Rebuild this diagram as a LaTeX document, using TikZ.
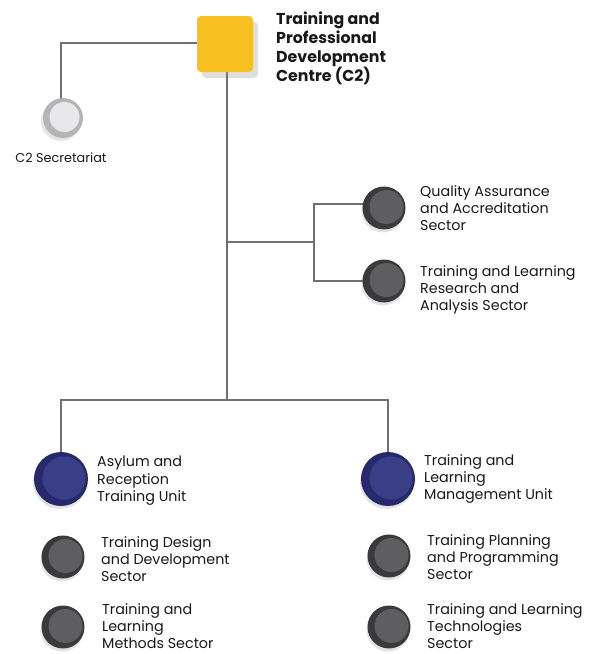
\documentclass[tikz,border=0pt]{standalone}
\usepackage{fontspec}
\setmainfont{Poppins}
\usetikzlibrary{shadows,calc}
\definecolor{ylw}{HTML}{F9C022}
\definecolor{ringdk}{HTML}{3A3A3C}
\definecolor{filldk}{HTML}{5E5E60}
\definecolor{ringbl}{HTML}{262A6C}
\definecolor{fillbl}{HTML}{3A3E86}
\definecolor{ringlt}{HTML}{B5B5B7}
\definecolor{filllt}{HTML}{E8E8EA}
\definecolor{linec}{HTML}{707070}
\tikzset{
  x=1pt,y=-1pt,
  conn/.style={draw=linec,line width=1.4pt},
  lbl/.style={anchor=north west,align=left,inner sep=0pt,font=\fontsize{14.3}{17.4}\selectfont,text=black!90},
  dkcirc/.style={circle,minimum size=43pt,inner sep=0pt,fill=ringdk,drop shadow={shadow xshift=-1pt,shadow yshift=-3pt,opacity=0.22}},
  blcirc/.style={circle,minimum size=54pt,inner sep=0pt,fill=ringbl,drop shadow={shadow xshift=-1pt,shadow yshift=-3pt,opacity=0.22}},
  ltcirc/.style={circle,minimum size=40pt,inner sep=0pt,fill=ringlt,drop shadow={shadow xshift=-2pt,shadow yshift=-3pt,opacity=0.2}},
}
\begin{document}
\begin{tikzpicture}
\useasboundingbox (0,0) rectangle (590,654);
% connectors first (behind)
\coordinate (j1) at (227,242);
\coordinate (j2) at (314,242);
\coordinate (j3) at (227,400);
\coordinate (topl) at (200,43);
\coordinate (topb) at (227,70);
\coordinate (secn) at (61,100);
\coordinate (aruN) at (61,452);
\coordinate (tlmuN) at (388,452);
\coordinate (qaW) at (365,204);
\coordinate (tlraW) at (365,281);
\draw[conn] (topl) -- (secn |- topl) -- (secn);
\draw[conn] (topb) -- (j3);
\draw[conn] (j1) -- (j2);
\draw[conn] (qaW) -- (qaW -| j2) -- (tlraW -| j2) -- (tlraW);
\draw[conn] (aruN) -- (aruN |- j3) -- (tlmuN |- j3) -- (tlmuN);

% nodes
\node[rounded corners=4pt,fill=ylw,minimum size=56pt,inner sep=0pt,drop shadow={shadow xshift=5pt,shadow yshift=-6pt,opacity=0.25}] (top) at (225,44) {};
\node[lbl,font=\fontsize{15.8}{18.8}\selectfont\bfseries] (toplbl) at (276,12) {Training and\\Professional\\Development\\Centre (C2)};

\node[ltcirc] (sec) at (63,118) {};
\fill[filllt] ($(sec)+(1.5,-1)$) circle (15pt);
\node[lbl,font=\fontsize{12.8}{14}\selectfont,anchor=north] (seclbl) at (61,153) {C2 Secretariat};

\node[dkcirc] (qa) at (384,208) {};
\node[dkcirc] (tlra) at (384,281) {};
\node[blcirc] (aru) at (61,479) {};
\node[blcirc] (tlmu) at (388,479) {};
\node[dkcirc] (tdd) at (63,557) {};
\node[dkcirc] (tlm) at (63,627) {};
\node[dkcirc] (tpp) at (389,556) {};
\node[dkcirc] (tlt) at (389,627) {};

\foreach \n in {qa,tlra,tdd,tlm,tpp,tlt}{
  \fill[filldk] ($(\n)+(2.5,-1)$) circle (17pt);
}
\foreach \n in {aru,tlmu}{
  \fill[fillbl] ($(\n)+(3,-1)$) circle (21.5pt);
}

\node[lbl] (qalbl) at (420,185) {Quality Assurance\\and Accreditation\\Sector};
\node[lbl] (tlralbl) at (420,265) {Training and Learning\\Research and\\Analysis Sector};
\node[lbl] (arulbl) at (97,456) {Asylum and\\Reception\\Training Unit};
\node[lbl] (tlmulbl) at (424,454) {Training and\\Learning\\Management Unit};
\node[lbl] (tddlbl) at (101,536) {Training Design\\and Development\\Sector};
\node[lbl] (tlmlbl) at (102,603) {Training and\\Learning\\Methods Sector};
\node[lbl] (tpplbl) at (427,534) {Training Planning\\and Programming\\Sector};
\node[lbl] (tltlbl) at (427,603) {Training and Learning\\Technologies\\Sector};
\end{tikzpicture}
\end{document}
